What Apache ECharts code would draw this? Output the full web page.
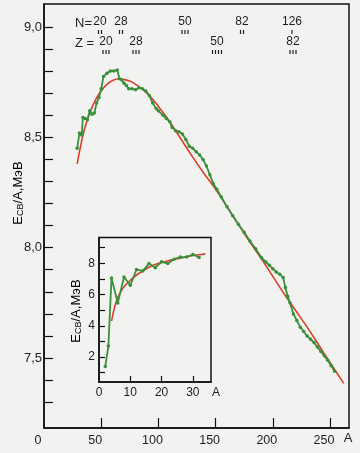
<!DOCTYPE html>
<html><head><meta charset="utf-8">
<script src="https://cdn.jsdelivr.net/npm/echarts@6/dist/echarts.min.js"></script>
<style>html,body{margin:0;padding:0;background:#f2f3f0;}#c{width:360px;height:453px;}</style>
</head><body><div id="c"></div>
<script>
// ---- main plot: experimental (green) ----
const greenA = [29,31,33,34,36,38,40,42,44,46,48,50,52,55,58,61,64,66,68,70,72,74,77,80,83,86,89,92,95,98,100,104,107,110,112,115,118,121,124,127,130,133,136,139,142,145,148,151,155,160,165,170,175,180,185,190,194,197,200,203,206,209,211,213,215,218,221,224,227,230,233,236,239,242,245,248,251,254];
const greenE = [8.45,8.52,8.51,8.59,8.585,8.58,8.62,8.605,8.61,8.655,8.68,8.72,8.775,8.79,8.80,8.80,8.805,8.765,8.76,8.745,8.735,8.72,8.72,8.715,8.725,8.72,8.71,8.69,8.655,8.63,8.62,8.60,8.585,8.57,8.545,8.53,8.525,8.515,8.49,8.46,8.45,8.435,8.42,8.40,8.37,8.33,8.29,8.265,8.23,8.185,8.145,8.105,8.07,8.03,7.995,7.955,7.935,7.92,7.905,7.89,7.88,7.865,7.82,7.78,7.75,7.70,7.67,7.64,7.62,7.60,7.585,7.57,7.55,7.53,7.51,7.49,7.465,7.44];
// ---- main plot: semi-empirical (red) ----
const redA = [29,32,35,40,45,50,55,60,65,70,75,80,90,100,110,120,130,140,150,160,170,180,190,200,210,220,230,240,250,262];
const redE = [8.38,8.46,8.53,8.61,8.67,8.71,8.74,8.757,8.765,8.762,8.755,8.74,8.70,8.64,8.57,8.49,8.41,8.335,8.265,8.185,8.105,8.025,7.95,7.87,7.79,7.715,7.64,7.56,7.48,7.385];
// ---- inset ----
const insetGreenA = [2,3,4,6,8,10,12,14,16,18,20,22,24,26,28,30,32];
const insetGreenE = [1.4,2.7,7.06,5.46,7.12,6.59,7.6,7.51,7.98,7.72,8.09,7.98,8.26,8.4,8.4,8.56,8.37];
const insetRedA = [4,5,6,7,8,10,12,14,16,18,20,22,24,26,28,30,32,34];
const insetRedE = [4.3,5.2,5.8,6.2,6.5,6.9,7.25,7.5,7.75,7.92,8.05,8.15,8.25,8.33,8.42,8.5,8.55,8.6];
// ---- ticks ----
const mainXLabels = [0,50,100,150,200,250];
const mainXTicks = [50,100,150,200,250];
const mainYLabels = [7.5,8.0,8.5,9.0];
const mainYTicks = [7.3,7.4,7.5,7.6,7.7,7.8,7.9,8.0,8.1,8.2,8.3,8.4,8.5,8.6,8.7,8.8,8.9,9.0];
const insetXLabels = [0,10,20,30];
const insetXTicks = [10,20,30];
const insetYLabels = [2,4,6,8];
const insetYTicks = [1,2,3,4,5,6,7,8,9];
const nShells = ['20','28','50','82','126'];
const nBars = [2,2,3,2,1];
const zShells = ['20','28','50','82'];
const zBars = [3,3,4,3];

const pairs = (a,b) => a.map((v,i)=>[v,b[i]]);
const FONT = 'Liberation Sans';
const TXT = '#1e1e1e';
const GREEN = '#3a8f3c';
const RED = '#d8402b';

function bars(cx, y, n){
  const els = [];
  const sp = 3;
  const x0 = cx - (n-1)*sp/2;
  for(let i=0;i<n;i++){
    els.push({type:'rect', shape:{x:x0+i*sp-0.6, y:y, width:1.2, height:4}, style:{fill:TXT}});
  }
  return els;
}
function txt(x,y,t,align,size){
  return {type:'text', x:x, y:y, style:{text:t, font:(size||12)+'px "'+FONT+'"', fill:TXT, textAlign:align||'center', textVerticalAlign:'middle'}};
}
const nX = [100,121,185,242,292];
const zX = [106,136,217,293];
const graphics = [];
graphics.push(txt(75,23,'N=','left',13));
graphics.push(txt(75,43,'Z =','left',13));
nShells.forEach((s,i)=>{ graphics.push(txt(nX[i],22,s)); graphics.push(...bars(nX[i],30,nBars[i])); });
zShells.forEach((s,i)=>{ graphics.push(txt(zX[i],42,s)); graphics.push(...bars(zX[i],50,zBars[i])); });
graphics.push(txt(348,438,'A','center',13));
graphics.push(txt(216,393,'A','center',12));
function yname(x,y){
  return {type:'text', x:x, y:y, rotation:Math.PI/2, style:{
    text:'{a|E}{s|CB}{a|/A,МэВ}', textAlign:'center', textVerticalAlign:'middle',
    rich:{a:{fontFamily:FONT,fontSize:13,lineHeight:16,verticalAlign:'bottom',color:TXT},
          s:{fontFamily:FONT,fontSize:9,lineHeight:6,verticalAlign:'bottom',color:TXT}}}};
}
graphics.push(yname(17,193));
graphics.push(yname(75,311));

const axisCommon = {
  axisLine:{show:true, onZero:false, lineStyle:{color:'#111', width:1.5}},
  splitLine:{show:false}
};
const chart = echarts.init(document.getElementById('c'));
chart.setOption({
  backgroundColor:'#f2f3f0',
  animation:false,
  graphic: graphics,
  grid:[
    {left:44, right:11, top:4, bottom:25, show:true, borderColor:'#111', borderWidth:1.5, backgroundColor:'transparent'},
    {left:99, top:237.5, width:112, bottom:71, show:true, borderColor:'#111', borderWidth:1.5, backgroundColor:'#f2f3f0'}
  ],
  xAxis:[
    Object.assign({}, axisCommon, {type:'value', gridIndex:0, min:0, max:266.6,
      axisTick:{show:true, inside:true, length:10, customValues:mainXTicks, lineStyle:{color:'#111',width:1.2}},
      axisLabel:{fontFamily:FONT, fontSize:12.5, color:TXT, margin:6, customValues:mainXLabels, padding:[0,12,0,0]}}),
    Object.assign({}, axisCommon, {type:'value', gridIndex:1, min:0, max:35.8,
      axisTick:{show:true, inside:true, length:6, customValues:insetXTicks, lineStyle:{color:'#111',width:1.2}},
      axisLabel:{fontFamily:FONT, fontSize:12, color:TXT, margin:5, customValues:insetXLabels}})
  ],
  yAxis:[
    Object.assign({}, axisCommon, {type:'value', gridIndex:0, min:7.183, max:9.104,
      axisTick:{show:true, inside:true, length:9, customValues:mainYTicks, lineStyle:{color:'#111',width:1.2}},
      axisLabel:{fontFamily:FONT, fontSize:13, color:TXT, margin:2, customValues:mainYLabels,
        formatter:v=>v.toFixed(1).replace('.',',')}}),
    Object.assign({}, axisCommon, {type:'value', gridIndex:1, min:0.4, max:9.65,
      axisTick:{show:true, inside:true, length:6, customValues:insetYTicks, lineStyle:{color:'#111',width:1.2}},
      axisLabel:{fontFamily:FONT, fontSize:12, color:TXT, margin:4, customValues:insetYLabels}})
  ],
  series:[
    {type:'line', xAxisIndex:0, yAxisIndex:0, data:pairs(redA,redE), smooth:0.4, showSymbol:false,
      lineStyle:{color:RED, width:1.6}, z:2},
    {type:'line', xAxisIndex:0, yAxisIndex:0, data:pairs(greenA,greenE), symbol:'circle', symbolSize:3.5,
      itemStyle:{color:GREEN}, lineStyle:{color:GREEN, width:1.8}, z:3},
    {type:'line', xAxisIndex:1, yAxisIndex:1, data:pairs(insetRedA,insetRedE), smooth:0.4, showSymbol:false,
      lineStyle:{color:RED, width:1.6}, z:2},
    {type:'line', xAxisIndex:1, yAxisIndex:1, data:pairs(insetGreenA,insetGreenE), symbol:'circle', symbolSize:3.5,
      itemStyle:{color:GREEN}, lineStyle:{color:GREEN, width:1.8}, z:3}
  ]
});
</script>
</body></html>
